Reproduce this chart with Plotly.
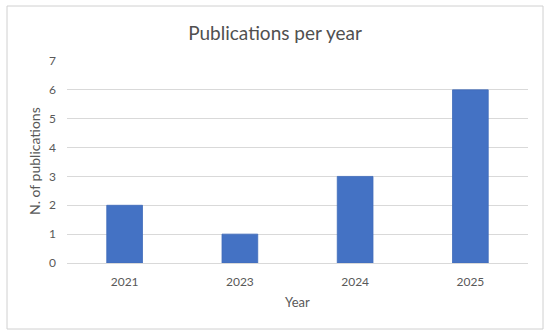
import plotly.graph_objects as go

years = ["2021", "2023", "2024", "2025"]
publications = [2, 1, 3, 6]
y_ticks = [0, 1, 2, 3, 4, 5, 6, 7]

FONT = "Lato, 'Open Sans', sans-serif"
L, R, T, B = 67, 22, 61, 73
W, H = 550, 336
pw, ph = W - L - R, H - T - B

fig = go.Figure(
    go.Bar(
        x=years,
        y=publications,
        marker=dict(color="#4472C4", line=dict(color="#3F6BBA", width=0.8)),
        width=0.31,
    )
)

fig.update_layout(
    width=W,
    height=H,
    margin=dict(l=L, r=R, t=T, b=B, autoexpand=False),
    paper_bgcolor="white",
    plot_bgcolor="white",
    showlegend=False,
    font=dict(family=FONT, color="#595959", size=12),
    title=dict(
        text="Publications per year",
        x=0.5,
        xanchor="center",
        y=1 - 33 / H,
        yanchor="middle",
        font=dict(family=FONT, size=19, color="#505050"),
    ),
    xaxis=dict(
        type="category",
        automargin=False,
        showgrid=False,
        showline=False,
        ticks="",
        ticklabelstandoff=10,
        tickfont=dict(size=12, color="#595959"),
    ),
    yaxis=dict(
        range=[0, 7],
        automargin=False,
        tickvals=y_ticks,
        showgrid=True,
        gridcolor="#D9D9D9",
        gridwidth=1,
        zeroline=True,
        zerolinecolor="#D9D9D9",
        zerolinewidth=1,
        showline=False,
        ticks="",
        ticklabelstandoff=10,
        tickfont=dict(size=12, color="#595959"),
    ),
    annotations=[
        dict(
            text="Year",
            xref="paper",
            yref="paper",
            x=(297 - L) / pw,
            y=-(302 - (H - B)) / ph,
            xanchor="center",
            yanchor="middle",
            showarrow=False,
            font=dict(size=13, color="#595959"),
        ),
        dict(
            text="N. of publications",
            xref="paper",
            yref="paper",
            x=-(L - 34) / pw,
            y=((H - B) - 161) / ph,
            xanchor="center",
            yanchor="middle",
            textangle=-90,
            showarrow=False,
            font=dict(size=14, color="#595959"),
        ),
    ],
    shapes=[
        dict(
            type="rect",
            xref="paper",
            yref="paper",
            x0=(7 - L) / pw,
            x1=(543 - L) / pw,
            y0=-(329 - (H - B)) / ph,
            y1=((H - B) - 6) / ph,
            line=dict(color="#D0D0D0", width=1),
            layer="below",
        )
    ],
)

fig.write_html(
    "out.html",
    config={"displayModeBar": False},
    post_script="document.body.style.margin='0';document.body.style.overflow='hidden';",
)
